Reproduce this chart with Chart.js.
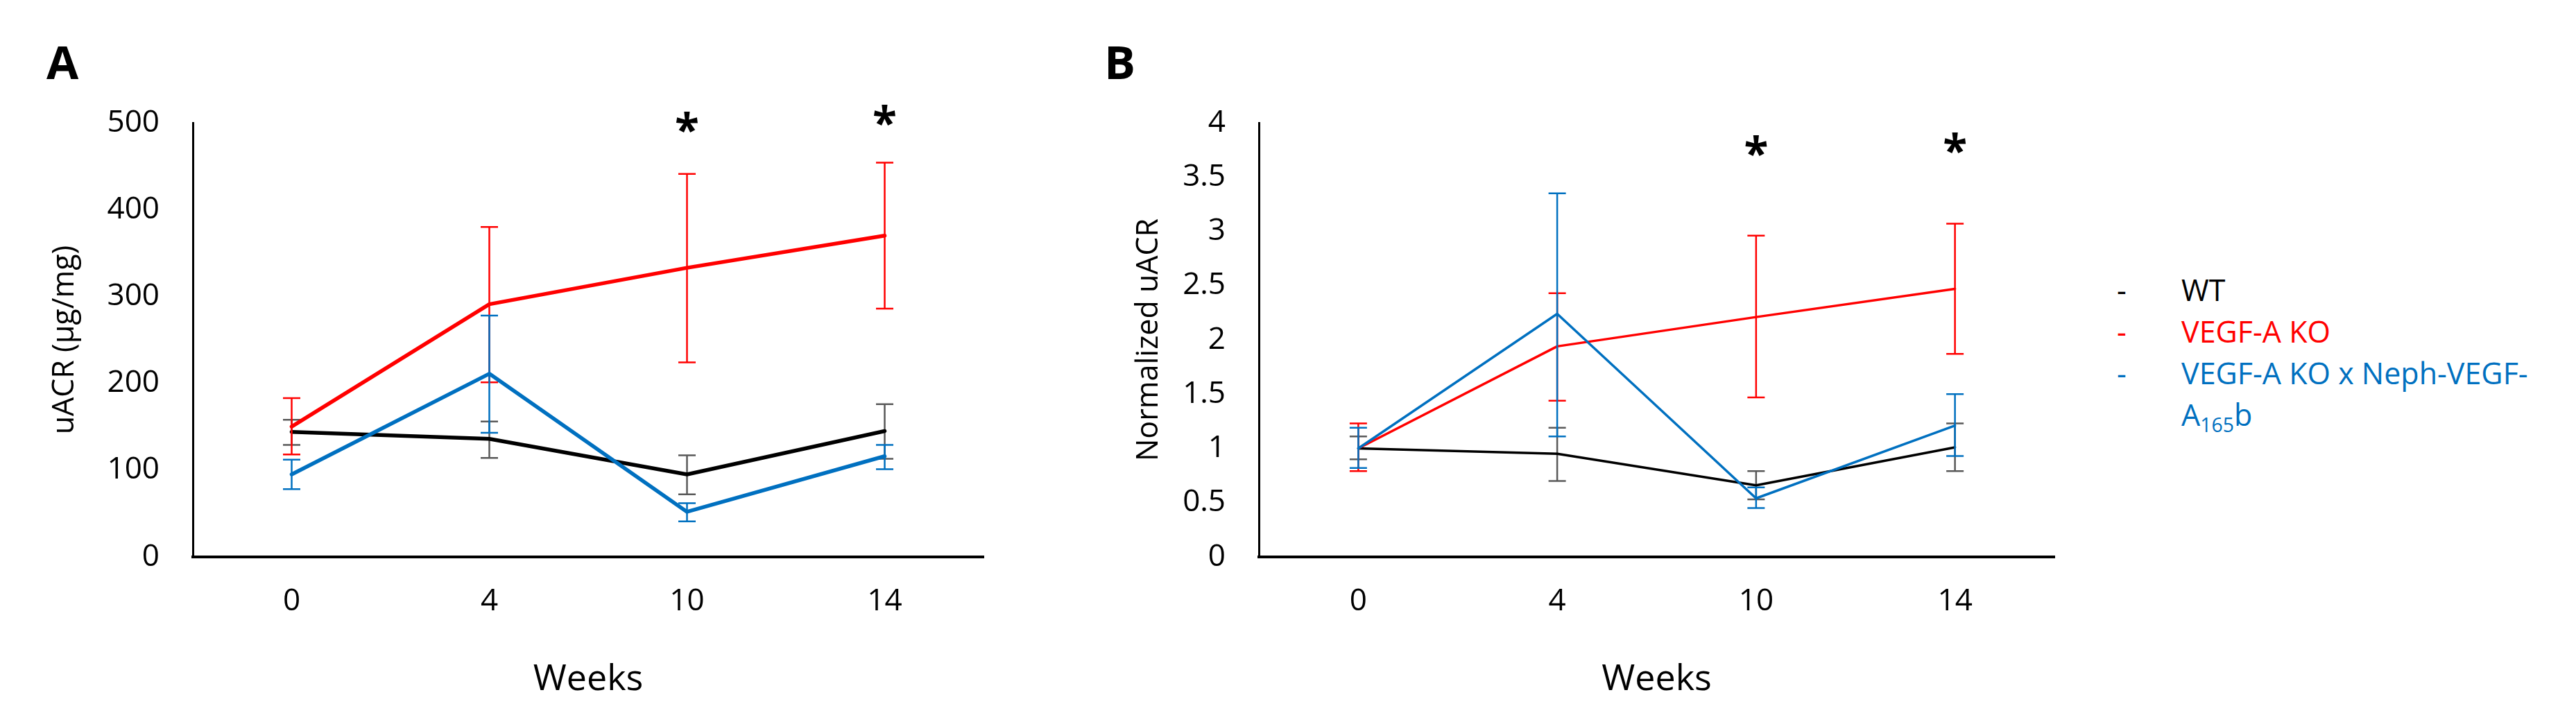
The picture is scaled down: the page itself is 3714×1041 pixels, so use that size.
<!DOCTYPE html>
<html>
<head>
<meta charset="utf-8">
<script src="https://cdn.jsdelivr.net/npm/chart.js@4.4.1/dist/chart.umd.min.js"></script>
<style>
  body { margin: 0; width: 3714px; height: 1041px; background: #fff; position: relative; overflow: hidden; font-family: "Open Sans", sans-serif; }
  canvas { position: absolute; top: 0; }
  #chartA { left: 0; }
  #chartB { left: 1480px; }
  .letter { position: absolute; top: 55px; font-weight: 700; font-size: 67px; line-height: 1; color: #000; }
  .legend { position: absolute; left: 3052px; top: 388px; font-size: 43px; line-height: 60px; }
  .legend .row { position: relative; padding-left: 93px; white-space: nowrap; }
  .legend .dash { position: absolute; left: 0; top: 0; }
  .legend sub { font-size: 0.66em; vertical-align: -0.32em; line-height: 0; }
</style>
</head>
<body>
<div class="letter" style="left:67px">A</div>
<div class="letter" style="left:1592px">B</div>
<canvas id="chartA" width="1480" height="1041"></canvas>
<canvas id="chartB" width="1530" height="1041"></canvas>
<div class="legend">
  <div class="row" style="color:#000000"><span class="dash">-</span>WT</div>
  <div class="row" style="color:#FF0000"><span class="dash">-</span>VEGF-A KO</div>
  <div class="row" style="color:#0070C0"><span class="dash">-</span>VEGF-A KO x Neph-VEGF-<br>A<sub>165</sub>b</div>
</div>
<script>
const FONT = "'Open Sans', sans-serif";

const weeks = ["0", "4", "10", "14"];

// A: uACR (ug/mg), mean with upper / lower error bar ends
const wtA = [144, 136, 95, 145];
const wtAHi = [158, 156, 117, 176];
const wtALo = [129, 114, 72, 113];
const koA = [150, 291, 333, 370];
const koAHi = [183, 380, 441, 454];
const koALo = [118, 201, 224, 286];
const rescueA = [95, 211, 52, 116];
const rescueAHi = [112, 278, 62, 129];
const rescueALo = [78, 143, 41, 101];

// B: normalized uACR
const wtB = [1.00, 0.95, 0.66, 1.01];
const wtBHi = [1.11, 1.19, 0.79, 1.23];
const wtBLo = [0.90, 0.70, 0.53, 0.79];
const koB = [1.00, 1.94, 2.21, 2.47];
const koBHi = [1.23, 2.43, 2.96, 3.07];
const koBLo = [0.79, 1.44, 1.47, 1.87];
const rescueB = [1.00, 2.24, 0.54, 1.21];
const rescueBHi = [1.19, 3.35, 0.64, 1.50];
const rescueBLo = [0.82, 1.11, 0.45, 0.93];

// significance marks (height in axis units)
const starA = [null, null, 502, 510];
const starB = [null, null, 3.80, 3.83];

const yTicksA = [0, 100, 200, 300, 400, 500];
const yTicksB = [0, 0.5, 1, 1.5, 2, 2.5, 3, 3.5, 4];

// error bars drawn just before each series' line
const errorBars = {
  id: "errorBars",
  beforeDatasetDraw(chart, args) {
    const ds = chart.data.datasets[args.index];
    const y = chart.scales.y;
    const ctx = chart.ctx;
    ctx.save();
    ctx.strokeStyle = ds.errColor;
    ctx.lineWidth = 2.5;
    args.meta.data.forEach((pt, i) => {
      const top = y.getPixelForValue(ds.errHi[i]);
      const bot = y.getPixelForValue(ds.errLo[i]);
      ctx.beginPath();
      ctx.moveTo(pt.x, top);
      ctx.lineTo(pt.x, bot);
      ctx.moveTo(pt.x - 12.5, top);
      ctx.lineTo(pt.x + 12.5, top);
      ctx.moveTo(pt.x - 12.5, bot);
      ctx.lineTo(pt.x + 12.5, bot);
      ctx.stroke();
    });
    ctx.restore();
  }
};

const stars = {
  id: "stars",
  afterDraw(chart, args, opts) {
    const ctx = chart.ctx;
    ctx.save();
    ctx.fillStyle = "#000";
    ctx.font = "bold 64px " + FONT;
    ctx.textAlign = "center";
    ctx.textBaseline = "alphabetic";
    opts.values.forEach((v, i) => {
      if (v === null) return;
      const x = chart.scales.x.getPixelForValue(i);
      const y = chart.scales.y.getPixelForValue(v);
      ctx.fillText("*", x, y + 36);
    });
    ctx.restore();
  }
};

function series(label, data, hi, lo, color, errColor, width, order) {
  return {
    label: label,
    data: data,
    errHi: hi,
    errLo: lo,
    errColor: errColor,
    borderColor: color,
    backgroundColor: color,
    borderWidth: width,
    borderJoinStyle: "round",
    borderCapStyle: "round",
    pointRadius: 0,
    tension: 0,
    fill: false,
    order: order
  };
}

function makePanel(id, cfg) {
  new Chart(document.getElementById(id), {
    type: "line",
    data: { labels: weeks, datasets: cfg.datasets },
    plugins: [errorBars, stars],
    options: {
      responsive: false,
      animation: false,
      devicePixelRatio: 1,
      layout: { padding: { top: 177, right: cfg.padRight, bottom: 0, left: 0 } },
      plugins: {
        legend: { display: false },
        tooltip: { enabled: false },
        stars: { values: cfg.stars }
      },
      scales: {
        x: {
          offset: true,
          grid: { display: false, drawTicks: false },
          border: { display: true, color: "#000", width: 4 },
          ticks: { color: "#000", font: { family: FONT, size: 44 }, padding: 38 },
          title: { display: true, text: "Weeks", color: "#000", font: { family: FONT, size: 52 }, padding: { top: 0, bottom: 30 } },
          afterFit: s => { s.height = 238; }
        },
        y: {
          min: 0,
          max: cfg.yMax,
          grid: { display: false, drawTicks: false },
          border: { display: true, color: "#000", width: 3 },
          ticks: {
            color: "#000",
            font: { family: FONT, size: 44 },
            padding: 48,
            callback: v => String(v)
          },
          afterBuildTicks: s => { s.ticks = cfg.yTicks.map(v => ({ value: v })); },
          title: { display: true, text: cfg.yTitle, color: "#000", font: { family: FONT, size: 43 }, padding: { top: cfg.titlePad, bottom: 0 } },
          afterFit: s => { s.width = cfg.yWidth; }
        }
      }
    }
  });
}

makePanel("chartA", {
  datasets: [
    series("WT", wtA, wtAHi, wtALo, "#000000", "#595959", 5.5, 3),
    series("VEGF-A KO", koA, koAHi, koALo, "#FF0000", "#FF0000", 5.5, 2),
    series("VEGF-A KO x Neph-VEGF-A165b", rescueA, rescueAHi, rescueALo, "#0070C0", "#0070C0", 5.5, 1)
  ],
  stars: starA,
  yMax: 500,
  yTicks: yTicksA,
  yTitle: "uACR (\u00b5g/mg)",
  yWidth: 278,
  titlePad: 68,
  padRight: 62
});

makePanel("chartB", {
  datasets: [
    series("WT", wtB, wtBHi, wtBLo, "#000000", "#595959", 3.5, 3),
    series("VEGF-A KO", koB, koBHi, koBLo, "#FF0000", "#FF0000", 3.5, 2),
    series("VEGF-A KO x Neph-VEGF-A165b", rescueB, rescueBHi, rescueBLo, "#0070C0", "#0070C0", 3.5, 1)
  ],
  stars: starB,
  yMax: 4,
  yTicks: yTicksB,
  yTitle: "Normalized uACR",
  yWidth: 335,
  titlePad: 151,
  padRight: 48
});
</script>
</body>
</html>
